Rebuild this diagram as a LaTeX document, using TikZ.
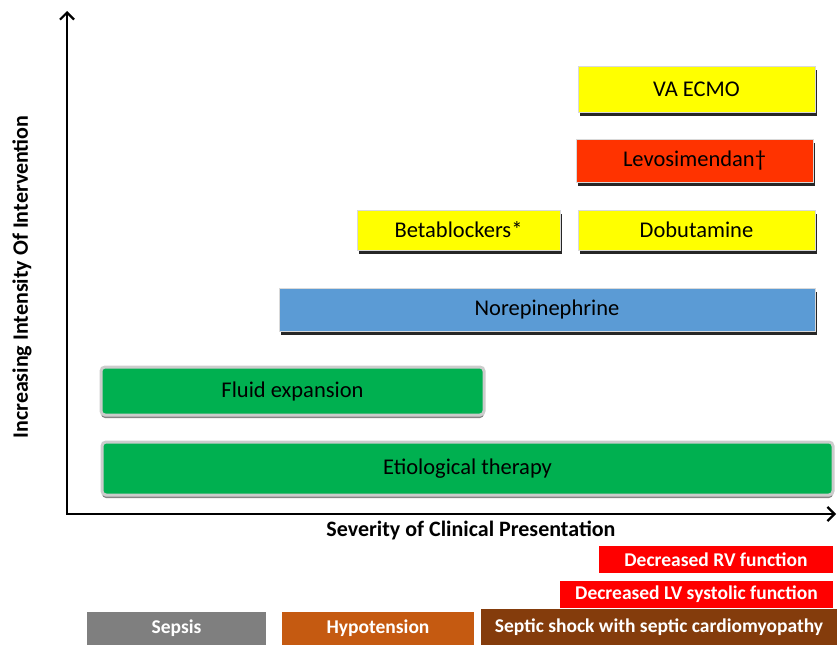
\documentclass[tikz,border=0pt]{standalone}
\usepackage{fontspec}
\setmainfont{Carlito}
\usetikzlibrary{shadows,arrows.meta}
\definecolor{yel}{HTML}{FFFF00}
\definecolor{levo}{HTML}{FF3300}
\definecolor{blu}{HTML}{5B9BD5}
\definecolor{grn}{HTML}{00B050}
\definecolor{rd}{HTML}{FF0000}
\definecolor{gry}{HTML}{7F7F7F}
\definecolor{org}{HTML}{C55A11}
\definecolor{brn}{HTML}{843C0C}
\tikzset{
  tbox/.style={draw=black!15, line width=0.6pt, inner sep=0pt, font=\fontsize{22.5}{24}\selectfont,
    drop shadow={shadow xshift=1.5pt, shadow yshift=-4pt, fill=black, opacity=0.85}},
  gbox/.style={draw=black!20, line width=3pt, rounded corners=4pt, fill=grn, inner sep=0pt,
    font=\fontsize{22.5}{24}\selectfont,
    drop shadow={shadow xshift=0pt, shadow yshift=-3pt, fill=black!60, opacity=0.8}},
  cbox/.style={inner sep=0pt, text=white, font=\bfseries\fontsize{19.5}{21}\selectfont},
  axis/.style={line width=2.2pt, -{Straight Barb[length=7pt,width=14pt]}},
  lab/.style={font=\bfseries\fontsize{22}{24}\selectfont}
}
\begin{document}
\begin{tikzpicture}[x=1pt,y=-1pt]
\useasboundingbox (0,0) rectangle (837,645);
% axes
\coordinate (o) at (67,514);
\coordinate (ytop) at (67,11);
\coordinate (xend) at (836,514);
\draw[axis] (o) -- (ytop);
\draw[axis] (66,514) -- (xend);
\node[lab, rotate=90] (ylab) at (22,277) {Increasing Intensity Of Intervention};
\node[lab] (xlab) at (471,530) {Severity of Clinical Presentation};
% intervention boxes
\node[tbox, fill=yel, minimum width=237pt, minimum height=46pt] (ecmo) at (696.5,89) {VA ECMO};
\node[tbox, fill=levo, minimum width=237pt, minimum height=43pt] (levo) at (694.5,160.5) {Levosimendan†};
\node[tbox, fill=yel, minimum width=203pt, minimum height=40pt] (beta) at (458.5,230) {Betablockers*};
\node[tbox, fill=yel, minimum width=237pt, minimum height=40pt] (dobu) at (696.5,230) {Dobutamine};
\node[tbox, fill=blu, minimum width=536pt, minimum height=43pt] (nore) at (547,309.5) {Norepinephrine};
\node[gbox, minimum width=383pt, minimum height=48pt] (fluid) at (292.5,391) {Fluid expansion};
\node[gbox, minimum width=731pt, minimum height=53pt] (etio) at (467.5,468.5) {Etiological therapy};
% clinical presentation boxes
\node[cbox, fill=rd, minimum width=234pt, minimum height=27pt] (rv) at (716,559.5) {Decreased RV function};
\node[cbox, fill=rd, minimum width=273pt, minimum height=27pt] (lv) at (696.5,594.5) {Decreased LV systolic function};
\node[cbox, fill=gry, minimum width=179pt, minimum height=33pt] (sepsis) at (176.5,628.5) {Sepsis};
\node[cbox, fill=org, minimum width=192pt, minimum height=33pt] (hypo) at (378,628.5) {Hypotension};
\node[cbox, fill=brn, minimum width=356pt, minimum height=36pt] (shock) at (659,627) {Septic shock with septic cardiomyopathy};
\end{tikzpicture}
\end{document}
